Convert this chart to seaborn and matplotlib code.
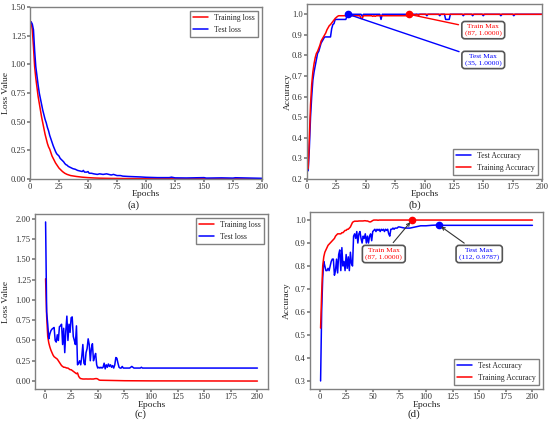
import matplotlib
matplotlib.use("Agg")
import matplotlib.pyplot as plt
import matplotlib.ticker as mticker
import seaborn as sns

# ---------------- data ----------------
# (a) loss
a_train_ep = [1, 2, 3, 4, 5, 6, 7, 8, 9, 10, 11, 12, 13, 14, 15, 16, 17, 18, 19, 20,
              21, 22, 23, 24, 25, 26, 27, 28, 30, 32, 35, 40, 45, 50, 55, 60, 70, 80,
              100, 125, 150, 200]
a_train = [1.37, 1.30, 1.15, 0.98, 0.88, 0.80, 0.72, 0.66, 0.60, 0.54, 0.49, 0.44,
           0.39, 0.35, 0.31, 0.28, 0.26, 0.23, 0.20, 0.18, 0.16, 0.14, 0.125, 0.11,
           0.095, 0.085, 0.075, 0.065, 0.05, 0.04, 0.03, 0.022, 0.016, 0.012, 0.009,
           0.007, 0.005, 0.004, 0.003, 0.002, 0.002, 0.001]
a_test_ep = [1, 2, 3, 4, 5, 6, 7, 8, 9, 10, 11, 12, 13, 14, 15, 16, 17, 18, 19, 20,
             21, 22, 23, 24, 25, 26, 27, 28, 29, 30, 31, 32, 33, 34, 35, 37, 39, 41,
             43, 45, 46, 47, 49, 50, 51, 53, 55, 58, 60, 63, 66, 68, 70, 72, 75, 78,
             80, 85, 90, 95, 100, 110, 120, 122, 125, 135, 150, 152, 165, 175, 177, 200]
a_test = [1.37, 1.35, 1.30, 1.12, 0.98, 0.90, 0.82, 0.75, 0.70, 0.65, 0.60, 0.56,
          0.52, 0.49, 0.45, 0.42, 0.38, 0.35, 0.32, 0.29, 0.265, 0.24, 0.22, 0.21,
          0.20, 0.18, 0.17, 0.16, 0.15, 0.135, 0.125, 0.12, 0.11, 0.105, 0.10, 0.09,
          0.085, 0.075, 0.07, 0.065, 0.075, 0.06, 0.06, 0.065, 0.05, 0.05, 0.045,
          0.04, 0.045, 0.04, 0.045, 0.04, 0.035, 0.04, 0.03, 0.03, 0.025, 0.022,
          0.02, 0.018, 0.015, 0.012, 0.012, 0.016, 0.01, 0.009, 0.012, 0.008, 0.01,
          0.008, 0.011, 0.006]

# (b) accuracy
b_test_ep = [1, 2, 3, 4, 5, 6, 7, 8, 9, 10, 11, 12, 13, 14, 15, 19, 20, 21, 22, 23,
             24, 33, 34, 35, 46, 47, 48, 62, 63, 64, 101, 102, 103, 112, 113, 114,
             117, 118, 121, 122, 132, 133, 134, 140, 141, 142, 149, 150, 151, 164,
             165, 166, 175, 176, 177, 200]
b_test = [0.24, 0.35, 0.50, 0.60, 0.68, 0.72, 0.75, 0.78, 0.81, 0.82, 0.84, 0.86,
          0.87, 0.88, 0.89, 0.89, 0.89, 0.93, 0.95, 0.955, 0.975, 0.975, 0.99, 1.0,
          1.0, 0.99, 1.0, 1.0, 0.975, 1.0, 1.0, 0.993, 1.0, 1.0, 0.993, 1.0, 1.0,
          0.975, 0.975, 1.0, 1.0, 0.993, 1.0, 1.0, 0.993, 1.0, 1.0, 0.993, 1.0, 1.0,
          0.993, 1.0, 1.0, 0.993, 1.0, 1.0]
b_train_ep = [1, 2, 3, 4, 5, 6, 7, 8, 9, 10, 11, 12, 13, 14, 15, 16, 17, 18, 19, 20,
              22, 24, 26, 27, 45, 46, 47, 48, 55, 56, 57, 58, 59, 86, 87, 88, 89, 90,
              92, 93, 95, 96, 200]
b_train = [0.25, 0.40, 0.56, 0.66, 0.72, 0.76, 0.79, 0.81, 0.82, 0.835, 0.85, 0.87,
           0.88, 0.89, 0.90, 0.91, 0.925, 0.935, 0.945, 0.95, 0.965, 0.98, 0.99,
           0.993, 0.993, 0.98, 0.98, 0.993, 0.993, 0.99, 0.993, 0.99, 0.993, 0.993,
           1.0, 1.0, 0.995, 1.0, 0.995, 1.0, 0.995, 1.0, 1.0]
b_test_max = (35, 1.0)
b_train_max = (87, 1.0)

# (c) loss
c_train_dense = [1.26, 0.80, 0.55, 0.47, 0.42, 0.38, 0.35, 0.32, 0.30, 0.29, 0.28,
                 0.27, 0.25, 0.23, 0.21, 0.19, 0.18, 0.17, 0.17, 0.165, 0.16, 0.16,
                 0.15, 0.14, 0.14, 0.13, 0.12, 0.11, 0.10, 0.09, 0.10, 0.06, 0.04,
                 0.03, 0.028, 0.025, 0.025, 0.025, 0.026, 0.025, 0.025, 0.025, 0.026,
                 0.025, 0.025, 0.025, 0.028, 0.03, 0.03, 0.025, 0.015, 0.01]
c_train_tail_ep = [60, 75, 100, 150, 200]
c_train_tail = [0.008, 0.004, 0.002, 0.001, 0.0]
c_test_dense = [1.96, 0.85, 0.70, 0.52, 0.58, 0.62, 0.64, 0.65, 0.66, 0.50, 0.48,
                0.57, 0.50, 0.67, 0.68, 0.70, 0.45, 0.65, 0.35, 0.62, 0.80, 0.50,
                0.70, 0.60, 0.78, 0.79, 0.55, 0.50, 0.45, 0.68, 0.20, 0.22, 0.25,
                0.20, 0.30, 0.45, 0.22, 0.20, 0.35, 0.40, 0.52, 0.45, 0.25, 0.40,
                0.46, 0.25, 0.30, 0.34, 0.20, 0.16, 0.17, 0.16, 0.17, 0.16, 0.17,
                0.22, 0.15, 0.20, 0.17, 0.21, 0.18, 0.20, 0.17, 0.19, 0.16, 0.20,
                0.29, 0.28, 0.22, 0.17, 0.16, 0.16, 0.18, 0.16, 0.16, 0.16, 0.16,
                0.16, 0.16, 0.16, 0.17, 0.18, 0.17, 0.16, 0.16, 0.16, 0.16, 0.16,
                0.16, 0.16, 0.17, 0.16, 0.16, 0.16, 0.16]
c_test_tail_ep = [200]
c_test_tail = [0.16]

# (d) accuracy
d_train_dense = [0.53, 0.68, 0.80, 0.84, 0.86, 0.87, 0.88, 0.89, 0.895, 0.90, 0.905,
                 0.91, 0.915, 0.92, 0.93, 0.935, 0.94, 0.94, 0.94, 0.94, 0.945,
                 0.945, 0.95, 0.955, 0.955, 0.96, 0.96, 0.965, 0.97, 0.98, 0.99,
                 0.993, 0.995, 0.995, 0.995, 0.995, 0.996, 0.996, 0.996, 0.996,
                 0.996, 0.997, 0.997, 0.996, 0.996, 0.994, 0.992, 0.992, 0.995,
                 0.998, 1.0, 1.0, 1.0, 1.0, 0.999, 1.0, 1.0, 1.0, 1.0, 1.0]
d_train_tail_ep = [200]
d_train_tail = [1.0]
d_test_dense = [0.30, 0.60, 0.75, 0.82, 0.80, 0.78, 0.78, 0.79, 0.78, 0.80, 0.82,
                0.83, 0.83, 0.76, 0.78, 0.83, 0.77, 0.85, 0.87, 0.78, 0.88, 0.80,
                0.82, 0.78, 0.85, 0.79, 0.84, 0.78, 0.86, 0.81, 0.80, 0.93, 0.94,
                0.92, 0.95, 0.90, 0.94, 0.95, 0.92, 0.90, 0.93, 0.92, 0.94, 0.90,
                0.93, 0.90, 0.93, 0.94, 0.91, 0.95, 0.955, 0.96, 0.95, 0.96, 0.955,
                0.96, 0.95, 0.96, 0.955, 0.96, 0.95, 0.96, 0.955, 0.96, 0.94, 0.93,
                0.96, 0.96, 0.965, 0.96, 0.965, 0.965, 0.965, 0.97, 0.97]
d_test_tail_ep = [80, 85, 90, 95, 100, 105, 112, 115, 200]
d_test_tail = [0.965, 0.965, 0.97, 0.975, 0.975, 0.977, 0.9787, 0.977, 0.977]
d_test_max = (112, 0.9787)
d_train_max = (87, 1.0)

epoch_ticks = [0, 25, 50, 75, 100, 125, 150, 175, 200]

# ---------------- style ----------------
sns.set_theme(style="ticks")
plt.rcParams["font.family"] = ["Liberation Serif", "DejaVu Serif"]
plt.rcParams.update({
    "axes.edgecolor": "#808080",
    "axes.linewidth": 1.0,
    "xtick.color": "#808080",
    "ytick.color": "#808080",
    "xtick.labelcolor": "#333333",
    "ytick.labelcolor": "#333333",
    "xtick.labelsize": 6.2,
    "ytick.labelsize": 6.2,
    "xtick.major.size": 2.0,
    "ytick.major.size": 2.0,
    "xtick.major.pad": 0.8,
    "ytick.major.pad": 1.0,
    "axes.labelsize": 6.8,
    "axes.labelcolor": "#222222",
    "legend.fontsize": 5.6,
    "legend.handlelength": 1.9,
})

W, H = 550, 422
fig = plt.figure(figsize=(W / 100, H / 100), dpi=100)


def px_axes(l, r, t, b):
    return fig.add_axes([l / W, 1 - b / H, (r - l) / W, (b - t) / H])


axa = px_axes(30, 262, 7, 179)
axb = px_axes(307, 542, 4, 179)
axc = px_axes(35, 268, 214, 389)
axd = px_axes(310, 543, 212, 389)

RED, BLUE = "#ff0000", "#0000ff"
LW = 1.1
ANN_FS = 5.4
box = dict(boxstyle="round,pad=0.4", fc="white", ec="#555555", lw=1.2)
leg_kw = dict(edgecolor="#808080", fancybox=False, framealpha=1)

# (a)
sns.lineplot(x=a_train_ep, y=a_train, ax=axa, color=RED, lw=LW, label="Training loss")
sns.lineplot(x=a_test_ep, y=a_test, ax=axa, color=BLUE, lw=LW, label="Test loss")
axa.set_xlim(0, 200)
axa.set_ylim(0, 1.5)
axa.set_xticks(epoch_ticks)
axa.set_yticks([0, 0.25, 0.5, 0.75, 1.0, 1.25, 1.5])
axa.yaxis.set_major_formatter(mticker.FormatStrFormatter("%.2f"))
axa.set_ylabel("Loss Value")
axa.legend(loc="upper right", **leg_kw)

# (b)
sns.lineplot(x=b_test_ep, y=b_test, ax=axb, color=BLUE, lw=LW, label="Test Accuracy")
sns.lineplot(x=b_train_ep, y=b_train, ax=axb, color=RED, lw=LW, label="Training Accuracy")
axb.plot([b_test_max[0]], [b_test_max[1]], "o", color=BLUE, ms=4.5)
axb.plot([b_train_max[0]], [b_train_max[1]], "o", color=RED, ms=4.5)
axb.annotate(f"Train Max\n({b_train_max[0]}, {b_train_max[1]:.4f})", xy=b_train_max,
             xytext=(150, 0.924), ha="center", va="center", color=RED, fontsize=ANN_FS,
             bbox=box, arrowprops=dict(arrowstyle="-", color=RED, lw=1.0))
axb.annotate(f"Test Max\n({b_test_max[0]}, {b_test_max[1]:.4f})", xy=b_test_max,
             xytext=(150, 0.779), ha="center", va="center", color=BLUE, fontsize=ANN_FS,
             bbox=box, arrowprops=dict(arrowstyle="-", color=BLUE, lw=1.0))
axb.set_xlim(0, 200)
axb.set_ylim(0.2, 1.05)
axb.set_xticks(epoch_ticks)
axb.set_yticks([0.2, 0.3, 0.4, 0.5, 0.6, 0.7, 0.8, 0.9, 1.0])
axb.set_ylabel("Accuracy")
axb.legend(loc="lower right", **leg_kw)

# (c)
c_train_ep = list(range(1, len(c_train_dense) + 1)) + c_train_tail_ep
c_test_ep = list(range(1, len(c_test_dense) + 1)) + c_test_tail_ep
sns.lineplot(x=c_train_ep, y=c_train_dense + c_train_tail, ax=axc, color=RED, lw=LW,
             label="Training loss")
sns.lineplot(x=c_test_ep, y=c_test_dense + c_test_tail, ax=axc, color=BLUE, lw=LW,
             label="Test loss")
axc.set_xticks(epoch_ticks)
axc.set_yticks([0, 0.25, 0.5, 0.75, 1.0, 1.25, 1.5, 1.75, 2.0])
axc.yaxis.set_major_formatter(mticker.FormatStrFormatter("%.2f"))
axc.set_ylabel("Loss Value")
axc.legend(loc="upper right", **leg_kw)

# (d)
d_train_ep = list(range(1, len(d_train_dense) + 1)) + d_train_tail_ep
d_test_ep = list(range(1, len(d_test_dense) + 1)) + d_test_tail_ep
sns.lineplot(x=d_test_ep, y=d_test_dense + d_test_tail, ax=axd, color=BLUE, lw=LW,
             label="Test Accuracy")
sns.lineplot(x=d_train_ep, y=d_train_dense + d_train_tail, ax=axd, color=RED, lw=LW,
             label="Training Accuracy")
axd.plot([d_test_max[0]], [d_test_max[1]], "o", color=BLUE, ms=4.5)
axd.plot([d_train_max[0]], [d_train_max[1]], "o", color=RED, ms=4.5)
axd.annotate(f"Train Max\n({d_train_max[0]}, {d_train_max[1]:.4f})", xy=d_train_max,
             xytext=(60.4, 0.853), ha="center", va="center", color=RED, fontsize=ANN_FS,
             bbox=box, arrowprops=dict(arrowstyle="->", color="#333333", lw=0.8))
axd.annotate(f"Test Max\n({d_test_max[0]}, {d_test_max[1]:.4f})", xy=d_test_max,
             xytext=(150, 0.853), ha="center", va="center", color=BLUE, fontsize=ANN_FS,
             bbox=box, arrowprops=dict(arrowstyle="->", color="#333333", lw=0.8))
axd.set_xticks(epoch_ticks)
axd.set_yticks([0.3, 0.4, 0.5, 0.6, 0.7, 0.8, 0.9, 1.0])
axd.set_ylabel("Accuracy")
axd.legend(loc="lower right", **leg_kw)

xlab_y = {axa: -15.5 / 172, axb: -15.5 / 175, axc: -16 / 175, axd: -16 / 177}
ylab_x = {axa: -24 / 232, axb: -19 / 235, axc: -29 / 233, axd: -23 / 233}
for ax in (axa, axb, axc, axd):
    ax.set_xlabel("Epochs")
    ax.xaxis.set_label_coords(0.5, xlab_y[ax])
    ax.xaxis.label.set_va("center")
    ax.yaxis.set_label_coords(ylab_x[ax], 0.5)
    ax.yaxis.label.set_va("center")

for lab, xpx, ypx in (("(a)", 133, 205.5), ("(b)", 415, 205.5),
                      ("(c)", 140, 414.5), ("(d)", 414, 414.5)):
    fig.text(xpx / W, 1 - ypx / H, lab, ha="center", va="center", fontsize=7.8,
             color="#222222")

fig.savefig("out.png", dpi=100)
